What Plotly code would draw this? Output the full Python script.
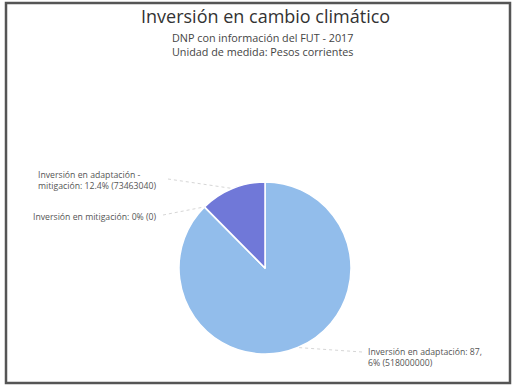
import math
import plotly.graph_objects as go

# ---- data ----
categories = ["Inversión en adaptación", "Inversión en mitigación", "Inversión en adaptación - mitigación"]
values = [518000000, 0, 73463040]
colors = ["#92bdeb", "#8fb9ea", "#7078d8"]
title_text = "Inversión en cambio climático"
subtitle_lines = ["DNP con información del FUT - 2017", "Unidad de medida: Pesos corrientes"]

W, H = 515, 388
CX, CY, R = 265, 268, 86  # pie centre / radius in pixels

dom_x = [(CX - R) / W, (CX + R) / W]
dom_y = [(H - CY - R) / H, (H - CY + R) / H]

total = sum(values)
pcts = [v / total * 100 for v in values]

def fmt_pct(p):
    return f"{p:.1f}".rstrip("0").rstrip(".")

fig = go.Figure(go.Pie(
    labels=categories, values=values, sort=False,
    direction="clockwise", rotation=0,
    marker=dict(colors=colors, line=dict(color="white", width=1.5)),
    textinfo="none", hoverinfo="label+value+percent",
    domain=dict(x=dom_x, y=dom_y), showlegend=False,
))

label_texts = [
    "Inversión en adaptación: " + fmt_pct(pcts[0]).replace(".", ",<br>") + f"% ({values[0]})",
    f"Inversión en mitigación: {fmt_pct(pcts[1])}% ({values[1]})",
    f"Inversión en adaptación -<br>mitigación: {fmt_pct(pcts[2])}% ({values[2]})",
]
# label anchor positions (pixels, left/middle)
label_pos = [(366, 357), (31, 217), (36, 180)]
line_start = [(362, 352), (163, 215), (168, 179)]

annotations = []
shapes = []
cum = 0.0
for i, v in enumerate(values):
    start = cum
    cum += v / total * 360
    mid = (start + cum) / 2 if v > 0 else start
    # clockwise from top
    px = CX + R * math.sin(math.radians(mid))
    py = CY - R * math.cos(math.radians(mid))
    lx, ly = label_pos[i]
    annotations.append(dict(
        x=lx / W, y=1 - ly / H, xref="paper", yref="paper",
        xanchor="left", yanchor="middle", align="left", showarrow=False,
        text=label_texts[i], font=dict(size=8.7, color="#555555", family="Open Sans"),
    ))
    sx, sy = line_start[i]
    shapes.append(dict(
        type="line", xref="paper", yref="paper",
        x0=sx / W, y0=1 - sy / H, x1=px / W, y1=1 - py / H,
        line=dict(color="#d6d6d6", width=1, dash="dot"),
    ))

# border
shapes.append(dict(type="rect", xref="paper", yref="paper",
                   x0=6 / W, y0=1 - 383 / H, x1=510 / W, y1=1 - 3 / H,
                   line=dict(color="#555555", width=2.5)))

annotations.append(dict(x=265 / W, y=1 - 16 / H, xref="paper", yref="paper",
                        xanchor="center", yanchor="middle", showarrow=False,
                        text=title_text, font=dict(size=18, color="#333333", family="Open Sans")))
for j, line in enumerate(subtitle_lines):
    annotations.append(dict(x=262 / W, y=1 - (37 + 15 * j) / H, xref="paper", yref="paper",
                            xanchor="center", yanchor="middle", showarrow=False,
                            text=line, font=dict(size=10.8, color="#444444", family="Open Sans")))

fig.update_layout(
    width=W, height=H, margin=dict(l=0, r=0, t=0, b=0),
    paper_bgcolor="white", plot_bgcolor="white",
    annotations=annotations, shapes=shapes,
)
fig.write_html("out.html", config={"displayModeBar": False},
               post_script="document.body.style.margin='0';")
